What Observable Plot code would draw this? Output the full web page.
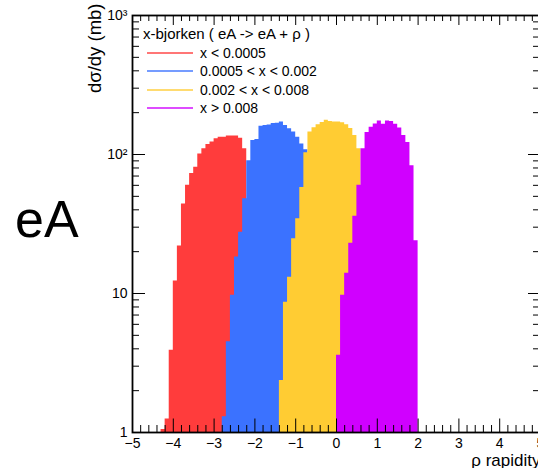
<!DOCTYPE html>
<html>
<head>
<meta charset="utf-8">
<script src="https://cdn.jsdelivr.net/npm/d3@7"></script>
<script src="https://cdn.jsdelivr.net/npm/@observablehq/plot@0.6"></script>
<style>
  html, body { margin: 0; padding: 0; background: #fff; }
  #wrap { position: relative; width: 538px; height: 468px; overflow: hidden;
          font-family: "Liberation Sans", Arial, Helvetica, sans-serif; color: #000; }
  #chart { position: absolute; left: 0; top: 0; }
  #side { position: absolute; left: 15px; top: 193px; font-size: 52px; line-height: 52px; }
  #legend { position: absolute; left: 0; top: 0; }
  .lg-row { position: absolute; height: 18px; line-height: 18px; font-size: 14px; white-space: nowrap; }
  .lg-head { position: absolute; left: 143px; top: 25px; height: 18px; line-height: 18px; font-size: 15px; white-space: nowrap; }
  .lg-swatch { position: absolute; left: 146.5px; width: 46px; height: 2px; opacity: 0.7; }
  .lg-text { position: absolute; left: 200px; }
</style>
</head>
<body>
<div id="wrap">
  <div id="chart"></div>
  <div id="side">eA</div>
  <div id="legend"></div>
</div>
<script>
// Rapidity histograms (bin width 0.1) of rho production in eA, split by x-bjorken.
const binWidth = 0.1;
const seriesNames = ["x < 0.0005", "0.0005 < x < 0.002", "0.002 < x < 0.008", "x > 0.008"];
const seriesColors = ["#ff3c3c", "#3b72ff", "#ffcc33", "#d000ff"];
const legendTitle = "x-bjorken ( eA -> eA + \u03c1 )";

// first bin lower edge of each histogram
const seriesStarts = [-4.3, -2.8, -1.4, 0.0];

// dσ/dy (mb) per bin
const redValues = [1.05, 1.25, 3.9, 12.3, 22, 44, 60, 73, 81, 101, 110, 118, 123, 130, 133, 133, 136, 136, 136, 131, 110];
const blueValues = [1.3, 4.5, 9.7, 18.3, 27.6, 48, 90, 126, 128, 160, 162, 163, 167, 168, 171, 162, 153, 145, 133, 119, 108];
const yellowValues = [2.37, 8.65, 13.1, 24.8, 34.5, 58, 103, 145, 156, 164, 170, 176, 173, 171, 171, 169, 164, 154, 137, 110];
const magentaValues = [3.6, 9.7, 14, 23, 36, 60, 110, 144, 157, 166, 174, 165, 174, 173, 165, 155, 137, 122, 83, 24];
const seriesValues = [redValues, blueValues, yellowValues, magentaValues];

// axis ticks
const xTickValues = [-5, -4, -3, -2, -1, 0, 1, 2, 3, 4, 5];
const xMinorTicks = d3.range(-50, 51, 2).filter(d => d % 10 !== 0).map(d => d / 10);
const yTickValues = [1, 10, 100, 1000];
const yTickLabels = ["1", "10", "10\u00b2", "10\u00b3"];
const yMinorTicks = [1, 10, 100].flatMap(d => [2, 3, 4, 5, 6, 7, 8, 9].map(k => k * d));
const xTitle = "\u03c1 rapidity";
const yTitle = "d\u03c3/dy (mb)";

// step outline of one histogram: one point per bin lower edge, plus the closing edge
function histPoints(start, values) {
  const pts = values.map((v, i) => ({x: Math.round((start + i * binWidth) * 100) / 100, v}));
  pts.push({x: Math.round((start + values.length * binWidth) * 100) / 100, v: values[values.length - 1]});
  return pts;
}

const frameW = 408, frameH = 417;
const fmtX = d => d < 0 ? "\u2212" + Math.abs(d) : String(d);

const marks = [];
seriesValues.forEach((vals, s) => {
  marks.push(Plot.areaY(histPoints(seriesStarts[s], vals), {
    x: "x", y1: 1, y2: "v", curve: "step-after", fill: seriesColors[s]
  }));
});
// inward ticks on all four sides
marks.push(
  Plot.ruleX(xTickValues, {x: d => d, insetTop: frameH - 13.5, stroke: "#000", strokeWidth: 1}),
  Plot.ruleX(xMinorTicks, {x: d => d, insetTop: frameH - 7, stroke: "#000", strokeWidth: 1}),
  Plot.ruleX(xTickValues, {x: d => d, insetBottom: frameH - 10, stroke: "#000", strokeWidth: 1}),
  Plot.ruleX(xMinorTicks, {x: d => d, insetBottom: frameH - 6, stroke: "#000", strokeWidth: 1}),
  Plot.ruleY(yTickValues, {y: d => d, insetRight: frameW - 13, stroke: "#000", strokeWidth: 1}),
  Plot.ruleY(yMinorTicks, {y: d => d, insetRight: frameW - 7, stroke: "#000", strokeWidth: 1}),
  Plot.ruleY(yTickValues, {y: d => d, insetLeft: frameW - 12, stroke: "#000", strokeWidth: 1}),
  Plot.ruleY(yMinorTicks, {y: d => d, insetLeft: frameW - 7, stroke: "#000", strokeWidth: 1}),
  Plot.frame({stroke: "#000", strokeWidth: 1.8}),
  Plot.axisX({ticks: xTickValues, tickSize: 0, tickPadding: 6, tickFormat: fmtX, label: null, fontSize: 14}),
  Plot.axisY({ticks: yTickValues, tickSize: 0, tickPadding: 5, label: null, fontSize: 14,
              tickFormat: d => yTickLabels[yTickValues.indexOf(d)]}),
  Plot.text([xTitle], {frameAnchor: "bottom-right", text: d => d, textAnchor: "end", lineAnchor: "middle", dy: 28, fontSize: 17}),
  Plot.text([yTitle], {frameAnchor: "top-left", text: d => d, rotate: -90, textAnchor: "end", lineAnchor: "middle", dx: -37, dy: -12, fontSize: 18.5})
);

const chart = Plot.plot({
  width: 560,
  height: 468,
  marginTop: 15,
  marginLeft: 132,
  marginBottom: 36,
  marginRight: 20,
  x: {domain: [-5, 5], label: null},
  y: {type: "log", domain: [1, 1000], label: null},
  style: {fontFamily: "'Liberation Sans', Arial, Helvetica, sans-serif", fontSize: "14px", color: "#000", background: "#fff", maxWidth: "none"},
  marks
});
document.getElementById("chart").appendChild(chart);

// legend in the upper-left corner of the frame
const legend = document.getElementById("legend");
const head = document.createElement("div");
head.className = "lg-head";
head.textContent = legendTitle;
legend.appendChild(head);
seriesNames.forEach((name, i) => {
  const cy = 53.3 + i * 18.1;
  const sw = document.createElement("div");
  sw.className = "lg-swatch";
  sw.style.top = (cy - 1) + "px";
  sw.style.background = seriesColors[i];
  legend.appendChild(sw);
  const tx = document.createElement("div");
  tx.className = "lg-row lg-text";
  tx.style.top = (cy - 9) + "px";
  tx.textContent = name;
  legend.appendChild(tx);
});
</script>
</body>
</html>
